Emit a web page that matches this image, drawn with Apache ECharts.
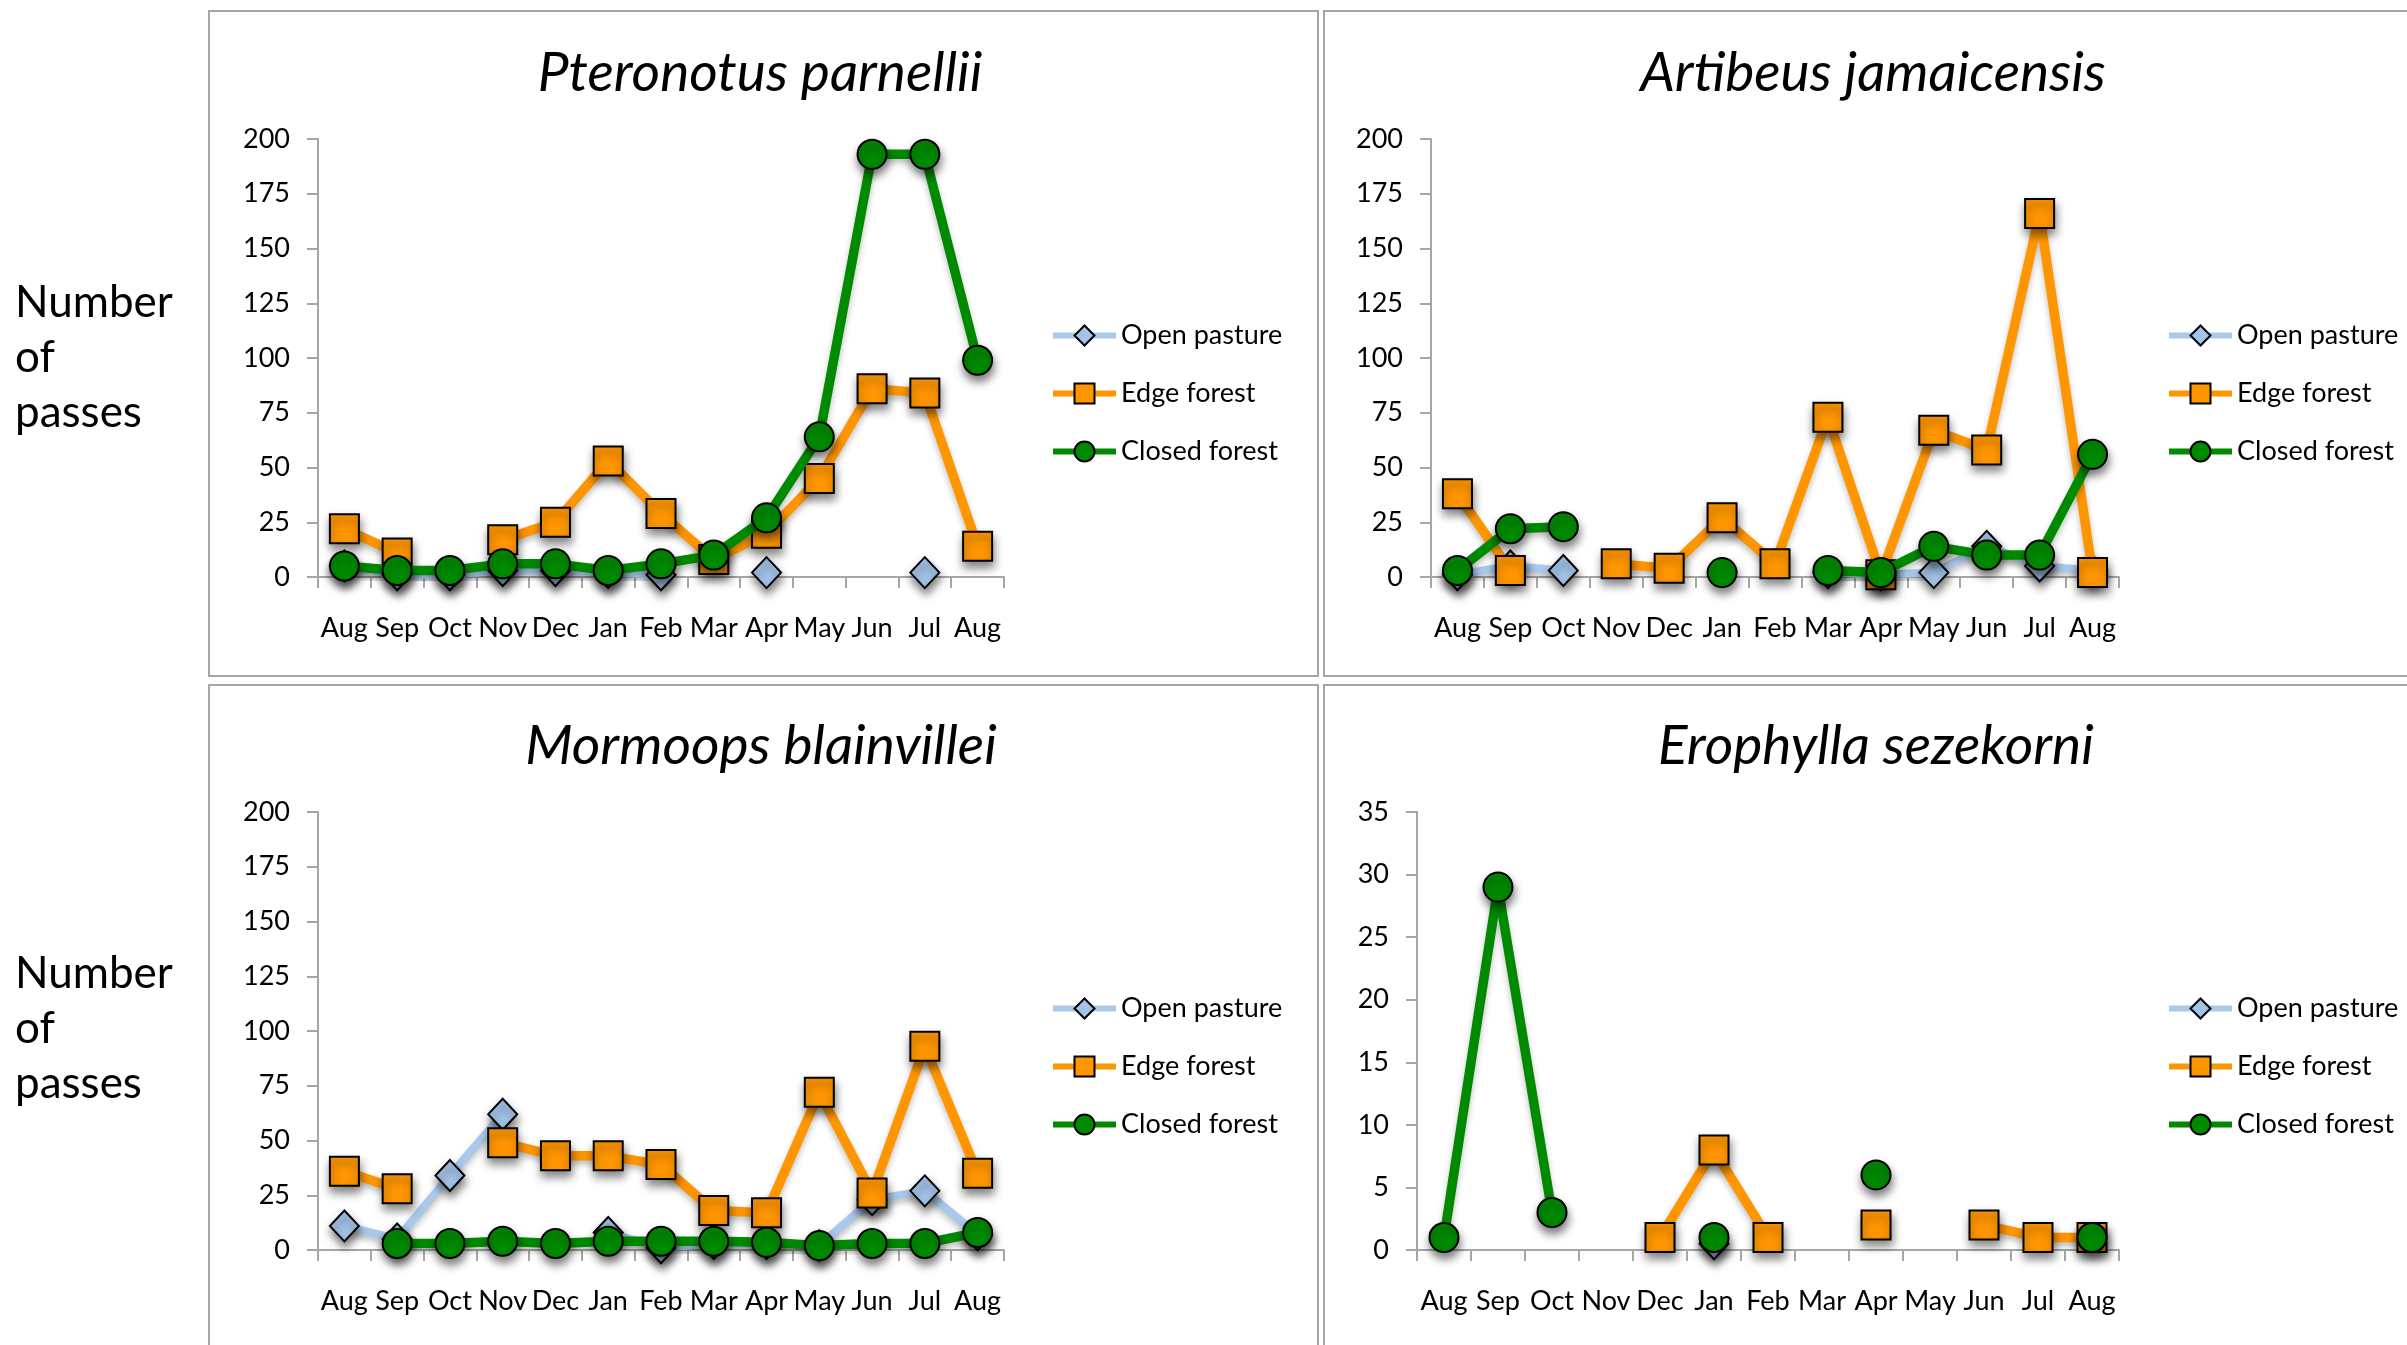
<!DOCTYPE html>
<html>
<head>
<meta charset="utf-8">
<title>Bat passes by habitat</title>
<script src="https://cdn.jsdelivr.net/npm/echarts@6/dist/echarts.min.js"></script>
<style>
    html, body { margin: 0; padding: 0; background: #fff; }
    #box { width: 2407px; height: 1345px; }
</style>
</head>
<body>
<div id="box"></div>
<script>
var months = ['Aug', 'Sep', 'Oct', 'Nov', 'Dec', 'Jan', 'Feb', 'Mar', 'Apr', 'May', 'Jun', 'Jul', 'Aug'];
var habitats = ['Open pasture', 'Edge forest', 'Closed forest'];
var species = ['Pteronotus parnellii', 'Artibeus jamaicensis', 'Mormoops blainvillei', 'Erophylla sezekorni'];
var yMax = [200, 200, 200, 35];
var yStep = [25, 25, 25, 5];

// Pteronotus parnellii
var openPteronotus = [5, 1, 1, 3, 3, 2, 1, null, 2, null, null, 2, null];
var edgePteronotus = [22, 11, null, 17, 25, 53, 29, 8, 20, 45, 86, 84, 14];
var closedPteronotus = [5, 3, 3, 6, 6, 3, 6, 10, 27, 64, 193, 193, 99];

// Artibeus jamaicensis
var openArtibeus = [1, 5, 3, null, null, null, null, 2, 1, 2, 14, 5, 3];
var edgeArtibeus = [38, 3, null, 6, 4, 27, 6, 73, 1, 67, 58, 166, 2];
var closedArtibeus = [3, 22, 23, null, null, 2, null, 3, 2, 14, 10, 10, 56];

// Mormoops blainvillei
var openMormoops = [11, 5, 34, 62, null, 8, 1, 3, 3, 2, 23, 27, 7];
var edgeMormoops = [36, 28, null, 49, 43, 43, 39, 18, 17, 72, 26, 93, 35];
var closedMormoops = [null, 3, 3, 4, 3, 4, 4, 4, 3.5, 2, 3, 3, 8];

// Erophylla sezekorni
var openErophylla = [null, null, null, null, null, 0.5, null, null, null, null, null, null, null];
var edgeErophylla = [null, null, null, null, 1, 8, 1, null, 2, null, 2, 1, 1];
var closedErophylla = [1, 29, 3, null, null, 1, null, null, 6, null, null, null, 1];

var panelData = [
    [openPteronotus, edgePteronotus, closedPteronotus],
    [openArtibeus, edgeArtibeus, closedArtibeus],
    [openMormoops, edgeMormoops, closedMormoops],
    [openErophylla, edgeErophylla, closedErophylla]
];

window.onload = function () {
    var myChart = echarts.init(document.getElementById('box'));
    var font = 'Lato';

    // plot areas
    var grids = [
        { left: 318, top: 139, width: 686, height: 438 },
        { left: 1431, top: 139, width: 688, height: 438 },
        { left: 318, top: 812, width: 686, height: 438 },
        { left: 1417, top: 812, width: 702, height: 438 }
    ];
    var legendPos = [[1045, 317], [2161, 317], [1045, 990], [2161, 990]];
    var titlePos = [[760, 73], [1873, 73], [761, 746], [1876, 746]];

    var lineColor = ['#a9c9eb', '#ff9600', '#008a00'];
    var fillColor = ['#a3c4e8', '#ff9600', '#008a00'];
    var symbols = ['diamond', 'rect', 'circle'];
    var axisGray = '#a6a6a6';

    var xAxis = [], yAxis = [], series = [], legend = [];
    for (var p = 0; p < 4; p++) {
        xAxis.push({
            type: 'category',
            gridIndex: p,
            data: months,
            boundaryGap: true,
            axisLine: { lineStyle: { color: axisGray, width: 2 } },
            axisTick: { show: true, length: 11, lineStyle: { color: axisGray, width: 2 } },
            axisLabel: { interval: 0, margin: 38, fontSize: 27, fontFamily: font, color: '#000' }
        });
        yAxis.push({
            type: 'value',
            gridIndex: p,
            min: 0,
            max: yMax[p],
            interval: yStep[p],
            axisLine: { show: true, lineStyle: { color: axisGray, width: 2 } },
            axisTick: { show: true, length: 11, lineStyle: { color: axisGray, width: 2 } },
            axisLabel: { margin: 28, fontSize: 27, fontFamily: font, color: '#000', padding: [5, 0, 0, 0] },
            splitLine: { show: false }
        });
        for (var h = 0; h < 3; h++) {
            series.push({
                name: habitats[h],
                type: 'line',
                xAxisIndex: p,
                yAxisIndex: p,
                data: panelData[p][h],
                symbol: symbols[h],
                symbolSize: h === 0 ? [29, 31] : 29,
                showAllSymbol: true,
                connectNulls: false,
                z: 2 + h,
                lineStyle: {
                    color: lineColor[h],
                    width: h === 0 ? 8 : 9.5,
                    shadowBlur: 6,
                    shadowColor: 'rgba(0,0,0,0.25)',
                    shadowOffsetY: 4
                },
                itemStyle: {
                    color: fillColor[h],
                    borderColor: '#000',
                    borderWidth: 2,
                    shadowBlur: 9,
                    shadowColor: 'rgba(0,0,0,0.5)',
                    shadowOffsetX: 1,
                    shadowOffsetY: 6
                },
                emphasis: { disabled: true }
            });
        }
        legend.push({
            data: habitats,
            orient: 'vertical',
            left: legendPos[p][0],
            top: legendPos[p][1],
            itemWidth: 63,
            itemHeight: 25,
            itemGap: 31,
            selectedMode: false,
            textStyle: { fontSize: 27, fontFamily: font, color: '#000' },
            lineStyle: { width: 6, shadowBlur: 0, shadowOffsetY: 0 },
            itemStyle: { borderWidth: 2, shadowBlur: 0, shadowOffsetX: 0, shadowOffsetY: 0 }
        });
    }

    var graphic = [
        // panel frames
        { type: 'rect', shape: { x: 209, y: 11, width: 1109, height: 665 }, style: { fill: 'none', stroke: axisGray, lineWidth: 2 }, z: 0 },
        { type: 'rect', shape: { x: 1324, y: 11, width: 1100, height: 665 }, style: { fill: 'none', stroke: axisGray, lineWidth: 2 }, z: 0 },
        { type: 'rect', shape: { x: 209, y: 685, width: 1109, height: 680 }, style: { fill: 'none', stroke: axisGray, lineWidth: 2 }, z: 0 },
        { type: 'rect', shape: { x: 1324, y: 685, width: 1100, height: 680 }, style: { fill: 'none', stroke: axisGray, lineWidth: 2 }, z: 0 },
        // y-axis name, written at the left of each row
        { type: 'text', x: 15, y: 275, style: { text: 'Number\nof\npasses', font: '44px Lato', lineHeight: 55, fill: '#000', textVerticalAlign: 'top' } },
        { type: 'text', x: 15, y: 946, style: { text: 'Number\nof\npasses', font: '44px Lato', lineHeight: 55, fill: '#000', textVerticalAlign: 'top' } }
    ];
    for (var t = 0; t < 4; t++) {
        graphic.push({
            type: 'text',
            x: titlePos[t][0],
            y: titlePos[t][1],
            style: {
                text: species[t],
                font: 'italic 55px Lato',
                fill: '#000',
                textAlign: 'center',
                textVerticalAlign: 'middle'
            }
        });
    }

    var option = {
        backgroundColor: '#fff',
        animation: false,
        grid: grids,
        xAxis: xAxis,
        yAxis: yAxis,
        legend: legend,
        series: series,
        graphic: graphic
    };
    myChart.setOption(option);
};
</script>
</body>
</html>
